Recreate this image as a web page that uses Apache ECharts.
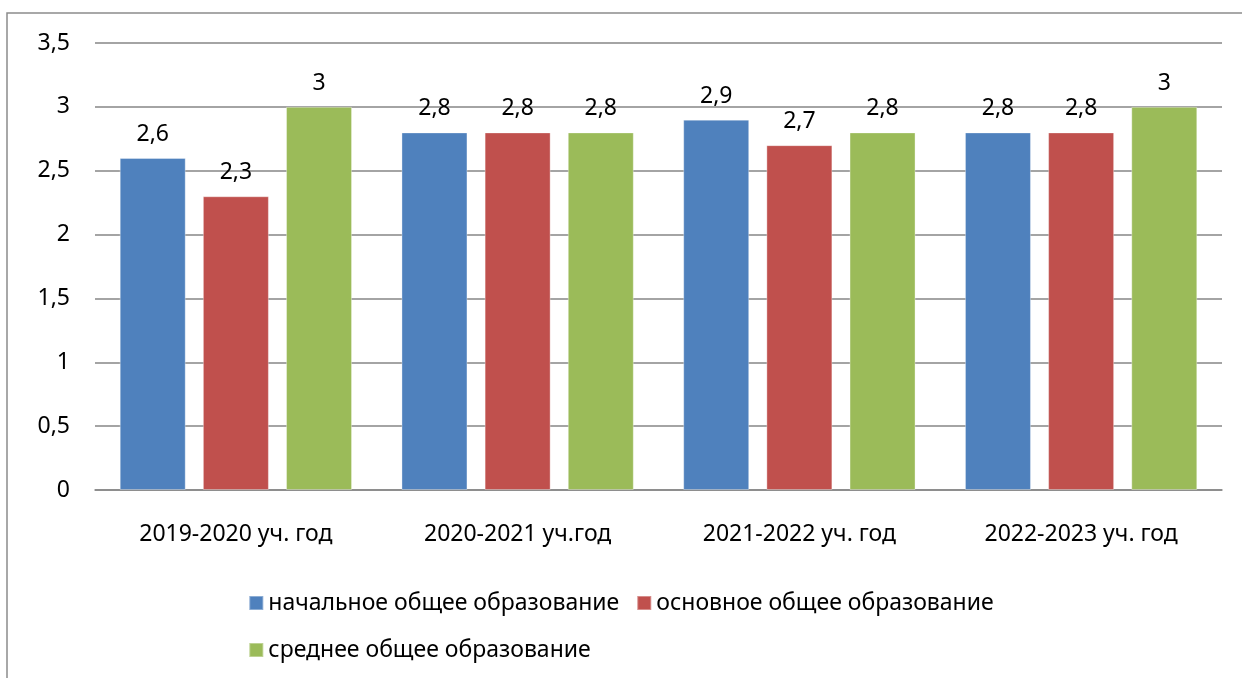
<!DOCTYPE html>
<html>
<head>
<meta charset="utf-8">
<script src="https://cdn.jsdelivr.net/npm/echarts@6/dist/echarts.min.js"></script>
<style>
html, body { margin: 0; padding: 0; background: #fff; }
#chart { width: 1242px; height: 678px; }
</style>
</head>
<body>
<div id="chart"></div>
<script>
var years = ['2019-2020 уч. год', '2020-2021 уч.год', '2021-2022 уч. год', '2022-2023 уч. год'];
var primary = [2.6, 2.8, 2.9, 2.8];
var basic = [2.3, 2.8, 2.7, 2.8];
var secondary = [3, 2.8, 2.8, 3];
var seriesNames = ['начальное общее образование', 'основное общее образование', 'среднее общее образование'];

var fontName = '"Noto Sans", sans-serif';
function comma(v) {
    return String(v).replace('.', ',');
}

var myChart = echarts.init(document.getElementById('chart'));

var barLabel = {
    show: true,
    position: 'top',
    distance: 12,
    color: '#000',
    fontFamily: fontName,
    fontSize: 23,
    formatter: function (p) { return comma(p.value); }
};

function makeSeries(name, data, color) {
    return {
        name: name,
        type: 'bar',
        data: data,
        barWidth: 66,
        barGap: '26%',
        itemStyle: {
            color: color,
            borderColor: 'rgba(255,255,255,0.35)',
            borderWidth: 1
        },
        label: barLabel
    };
}

var option = {
    animation: false,
    backgroundColor: '#fff',
    textStyle: { fontFamily: fontName },
    graphic: [{
        type: 'rect',
        shape: { x: 7, y: 13, width: 1300, height: 700 },
        style: { fill: 'none', stroke: '#8c8c8c', lineWidth: 1.5 },
        silent: true
    }],
    grid: {
        left: 95,
        right: 20,
        top: 43,
        bottom: 188
    },
    legend: {
        data: seriesNames,
        left: 'center',
        top: 583,
        width: 820,
        itemWidth: 14,
        itemHeight: 14,
        itemGap: 17,
        icon: 'rect',
        textStyle: {
            color: '#000',
            fontFamily: fontName,
            fontSize: 23,
            lineHeight: 30
        }
    },
    xAxis: {
        type: 'category',
        data: years,
        axisLine: { lineStyle: { color: '#868686', width: 1.5 } },
        axisTick: { show: false },
        axisLabel: {
            color: '#000',
            fontFamily: fontName,
            fontSize: 23,
            margin: 33
        }
    },
    yAxis: {
        type: 'value',
        min: 0,
        max: 3.5,
        interval: 0.5,
        axisLine: { show: false },
        axisTick: { show: false },
        splitLine: { lineStyle: { color: '#868686', width: 1.5 } },
        axisLabel: {
            color: '#000',
            fontFamily: fontName,
            fontSize: 23,
            margin: 25,
            formatter: function (v) { return comma(v); }
        }
    },
    series: [
        makeSeries(seriesNames[0], primary, '#4F81BD'),
        makeSeries(seriesNames[1], basic, '#C0504D'),
        makeSeries(seriesNames[2], secondary, '#9BBB59')
    ]
};
myChart.setOption(option);
</script>
</body>
</html>
